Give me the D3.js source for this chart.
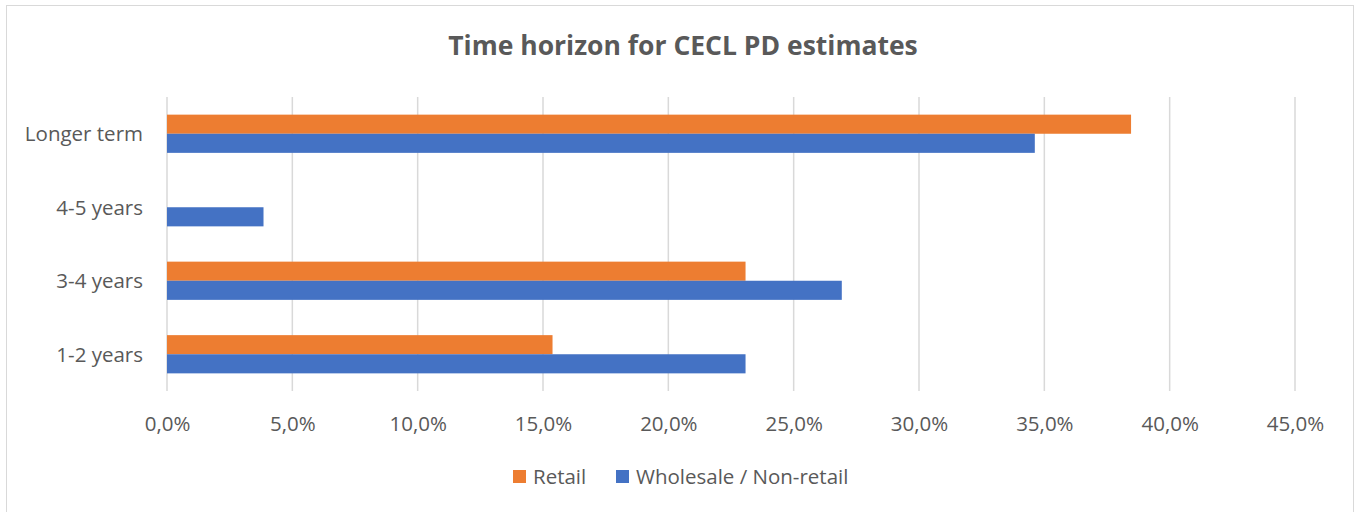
<!DOCTYPE html>
<html lang="en">
<head>
<meta charset="UTF-8" />
<title>Time horizon for CECL PD estimates</title>
<script src="https://cdn.jsdelivr.net/npm/d3@7"></script>
<style>
  body { margin: 0; background: #fff; }
  text { font-family: "Open Sans", "Liberation Sans", sans-serif; fill: #595959; }
</style>
</head>
<body>
<script>
// data
var categories = ["Longer term", "4-5 years", "3-4 years", "1-2 years"];
var seriesNames = ["Retail", "Wholesale / Non-retail"];
var retail = [38.46, 0, 23.08, 15.38];
var wholesale = [34.62, 3.85, 26.92, 23.08];
var ticks = [0, 5, 10, 15, 20, 25, 30, 35, 40, 45];
var colors = ["#ED7D31", "#4472C4"];

var width = 1356, height = 512;
var svg = d3.select("body").append("svg")
  .attr("width", width)
  .attr("height", height);

// outer border
svg.append("rect")
  .attr("x", 6.5).attr("y", 5.5)
  .attr("width", 1347).attr("height", 510)
  .attr("fill", "none").attr("stroke", "#d9d9d9").attr("stroke-width", 1);

svg.append("text")
  .attr("x", 683).attr("y", 55)
  .attr("text-anchor", "middle")
  .style("font-size", "26.5px").style("font-weight", "bold")
  .text("Time horizon for CECL PD estimates");

var x = d3.scaleLinear().domain([0, 45]).range([167, 1295]);
var y = d3.scaleBand().domain(categories).range([97, 391]).paddingInner(0.48).paddingOuter(0.24);

// gridlines
svg.append("g").selectAll("line")
  .data(ticks)
  .enter().append("line")
  .attr("x1", function(d) { return x(d); })
  .attr("x2", function(d) { return x(d); })
  .attr("y1", 97).attr("y2", 391)
  .attr("stroke", "#d9d9d9").attr("stroke-width", 1.5);

var inner = d3.scaleBand().domain(seriesNames).range([0, y.bandwidth()]);
var rows = [retail, wholesale];

seriesNames.forEach(function(name, i) {
  svg.append("g").selectAll("rect")
    .data(categories)
    .enter().append("rect")
    .attr("x", x(0))
    .attr("y", function(d) { return y(d) + inner(name); })
    .attr("width", function(d, j) { return x(rows[i][j]) - x(0); })
    .attr("height", inner.bandwidth())
    .attr("fill", colors[i]);
});

// x axis labels
var xAxis = d3.axisBottom(x).tickValues(ticks)
  .tickFormat(function(d) { return d.toFixed(1).replace(".", ",") + "%"; })
  .tickSize(0).tickPadding(0);
var gx = svg.append("g").attr("transform", "translate(0,413)").call(xAxis);
gx.select(".domain").remove();
gx.selectAll("text").style("font-size", "20.5px").attr("dy", "0.9em");

// y axis labels
var yAxis = d3.axisLeft(y).tickSize(0).tickPadding(0);
var gy = svg.append("g").attr("transform", "translate(143,1)").call(yAxis);
gy.select(".domain").remove();
gy.selectAll("text").style("font-size", "20.5px");

// legend
var legX = [513, 616];
seriesNames.forEach(function(name, i) {
  svg.append("rect")
    .attr("x", legX[i]).attr("y", 470)
    .attr("width", 13).attr("height", 13)
    .attr("fill", colors[i]);
  svg.append("text")
    .attr("x", legX[i] + 20).attr("y", 484)
    .style("font-size", "20.5px")
    .text(name);
});
</script>
</body>
</html>
